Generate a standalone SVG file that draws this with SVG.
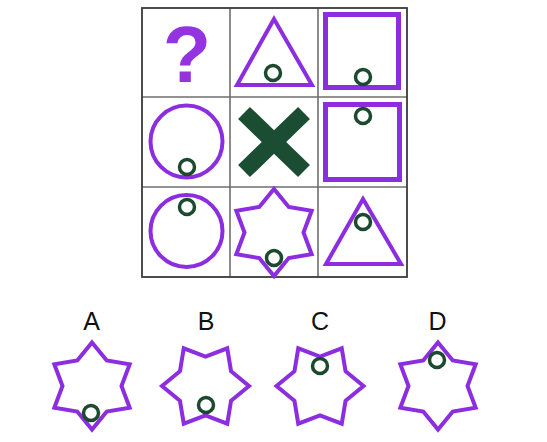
<svg xmlns="http://www.w3.org/2000/svg" xmlns:xlink="http://www.w3.org/1999/xlink" width="547" height="442" viewBox="0 0 547 442">
<style>
.grid{fill:none;stroke:#6e6e6e;stroke-width:1.6}
.outer{fill:none;stroke:#3a3a3a;stroke-width:1.8}
.p{fill:none;stroke:#8c2ee0;stroke-width:4;stroke-linejoin:miter}
.sq{fill:none;stroke:#8c2ee0;stroke-width:5}
.dot{fill:#ffffff;stroke:#1c4a2e;stroke-width:3.5}
.lbl{font-family:"Liberation Sans",Arial,sans-serif;font-size:25px;fill:#111;text-anchor:middle}
</style>
<defs>
<path id="star" d="M0,-43.5 L14.75,-25.55 L37.67,-21.75 L29.5,0 L37.67,21.75 L14.75,25.55 L0,43.5 L-14.75,25.55 L-37.67,21.75 L-29.5,0 L-37.67,-21.75 L-14.75,-25.55 Z"/>
</defs>
<rect width="547" height="442" fill="#ffffff"/>
<g id="grid">
<line class="grid" x1="230" y1="8" x2="230" y2="277"/>
<line class="grid" x1="318" y1="8" x2="318" y2="277"/>
<line class="grid" x1="142" y1="97" x2="407" y2="97"/>
<line class="grid" x1="142" y1="187" x2="407" y2="187"/>
<rect class="outer" x="142" y="8" width="265" height="269"/>
</g>
<g id="cell-question">
<text x="187" y="82" font-family="Liberation Sans,Arial,sans-serif" font-weight="bold" font-size="79" fill="#9433e0" text-anchor="middle">?</text>
</g>
<g id="cell-triangle-1">
<polygon class="p" points="274,19 237,85 312,85"/>
<circle class="dot" cx="273" cy="73" r="7.5"/>
</g>
<g id="cell-square-1">
<rect class="sq" x="325.5" y="14.5" width="73" height="73"/>
<circle class="dot" cx="363" cy="77" r="7.5"/>
</g>
<g id="cell-circle-1">
<circle class="p" cx="186.5" cy="141.5" r="36"/>
<circle class="dot" cx="187" cy="167" r="7.5"/>
</g>
<g id="cell-x">
<line x1="244" y1="113" x2="304" y2="171" stroke="#1b4d32" stroke-width="17"/>
<line x1="304" y1="113" x2="244" y2="171" stroke="#1b4d32" stroke-width="17"/>
</g>
<g id="cell-square-2">
<rect class="sq" x="325.5" y="104.5" width="74" height="75"/>
<circle class="dot" cx="363" cy="116" r="7.5"/>
</g>
<g id="cell-circle-2">
<circle class="p" cx="186.5" cy="231" r="36"/>
<circle class="dot" cx="187" cy="207" r="7.5"/>
</g>
<g id="cell-star">
<use xlink:href="#star" class="p" transform="translate(274,232.5)"/>
<circle class="dot" cx="274" cy="258" r="7.5"/>
</g>
<g id="cell-triangle-2">
<polygon class="p" points="363,199 326,264 401,264"/>
<circle class="dot" cx="363" cy="222" r="7.5"/>
</g>
<g id="option-A">
<text class="lbl" x="91.5" y="330">A</text>
<use xlink:href="#star" class="p" transform="translate(92,386)"/>
<circle class="dot" cx="91" cy="413" r="7.5"/>
</g>
<g id="option-B">
<text class="lbl" x="206" y="330">B</text>
<use xlink:href="#star" class="p" transform="translate(205.5,386) rotate(30)"/>
<circle class="dot" cx="206" cy="405" r="7.5"/>
</g>
<g id="option-C">
<text class="lbl" x="320" y="330">C</text>
<use xlink:href="#star" class="p" transform="translate(320,386) rotate(30)"/>
<circle class="dot" cx="320" cy="366" r="7.5"/>
</g>
<g id="option-D">
<text class="lbl" x="437.5" y="330">D</text>
<use xlink:href="#star" class="p" transform="translate(438,386)"/>
<circle class="dot" cx="437" cy="360" r="7.5"/>
</g>
</svg>
